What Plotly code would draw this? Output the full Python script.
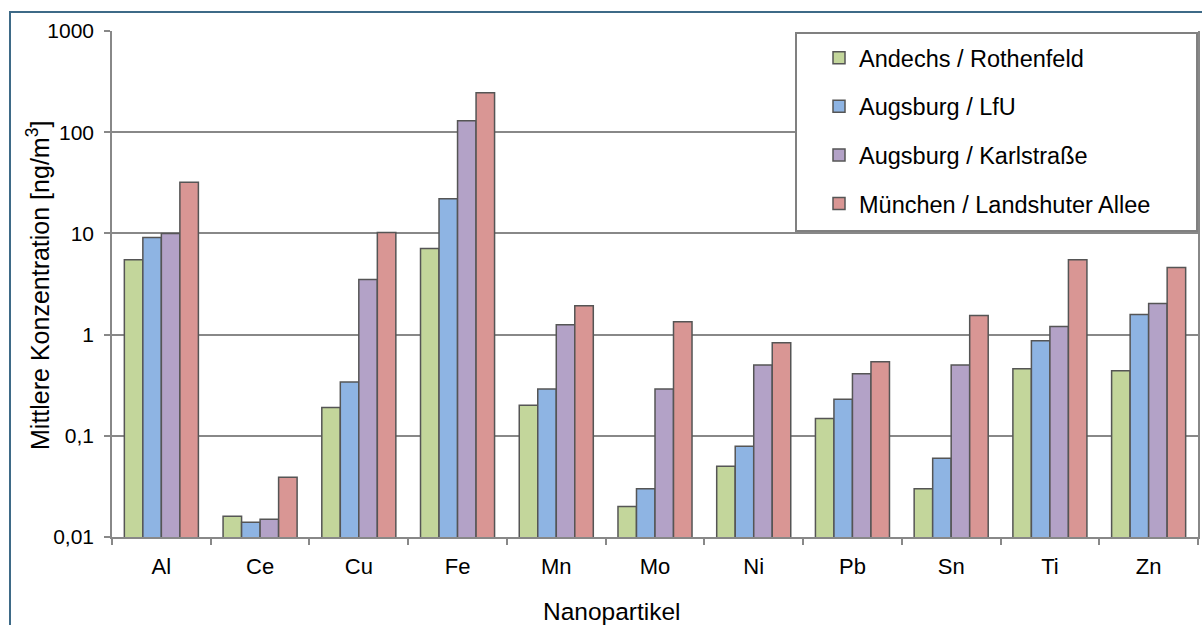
import plotly.graph_objects as go

categories = ["Al", "Ce", "Cu", "Fe", "Mn", "Mo", "Ni", "Pb", "Sn", "Ti", "Zn"]
series_names = ["Andechs / Rothenfeld", "Augsburg / LfU", "Augsburg / Karlstraße", "München / Landshuter Allee"]
andechs = [5.5, 0.016, 0.19, 7.1, 0.20, 0.020, 0.050, 0.148, 0.030, 0.46, 0.44]
augsburg_lfu = [9.1, 0.014, 0.34, 22, 0.29, 0.030, 0.079, 0.23, 0.060, 0.87, 1.58]
augsburg_karl = [10, 0.015, 3.5, 130, 1.25, 0.29, 0.50, 0.41, 0.50, 1.2, 2.03]
muenchen = [32, 0.039, 10.2, 245, 1.93, 1.34, 0.83, 0.54, 1.54, 5.5, 4.6]
series_values = [andechs, augsburg_lfu, augsburg_karl, muenchen]
colors = ["#c3d69b", "#8eb4e3", "#b3a2c7", "#d99694"]
ytick_vals = [0.01, 0.1, 1, 10, 100, 1000]
ytick_text = ["0,01", "0,1", "1", "10", "100", "1000"]

W, H = 1202, 625
L, R, T, B = 112, 1198, 31, 537
pw, ph = R - L, B - T

def px(x):
    return (x - L) / pw

def py(y):
    return (B - y) / ph

font = "Liberation Sans, Arial, sans-serif"
fig = go.Figure()
for name, vals, c in zip(series_names, series_values, colors):
    fig.add_trace(go.Bar(
        x=categories, y=vals, name=name, legendgroup=name,
        marker=dict(color=c, line=dict(color="#555555", width=1.5)),
    ))

fig.update_layout(
    width=W, height=H,
    margin=dict(l=L, r=W - R, t=T, b=H - B, autoexpand=False),
    paper_bgcolor="white", plot_bgcolor="white",
    barmode="group", bargap=0.25, bargroupgap=0,
    font=dict(family=font, size=21, color="#000000"),
    showlegend=True,
    legend=dict(
        x=px(819), y=py(36), xanchor="left", yanchor="top",
        font=dict(size=23.5, family=font), bgcolor="rgba(0,0,0,0)",
        borderwidth=0, tracegroupgap=15, itemclick=False,
    ),
    xaxis=dict(
        type="category", showline=True, linecolor="#888888", linewidth=1.5,
        ticks="outside", tickson="boundaries", ticklen=6, tickcolor="#888888",
        tickwidth=1.5, showgrid=False, tickfont=dict(size=22, family=font),
        ticklabelstandoff=9,
    ),
    yaxis=dict(
        type="log", range=[-2, 3], tickvals=ytick_vals, ticktext=ytick_text,
        showline=True, mirror=True, linecolor="#888888", linewidth=1.5,
        ticks="outside", ticklen=6, tickcolor="#888888", tickwidth=1.5,
        showgrid=True, gridcolor="#888888", gridwidth=1.5,
        tickfont=dict(size=21, family=font), zeroline=False,
        ticklabelstandoff=6,
    ),
    shapes=[
        dict(type="rect", xref="paper", yref="paper",
             x0=px(796), x1=px(1197), y0=py(231), y1=py(33),
             line=dict(color="#808080", width=2), fillcolor="white", layer="above"),
        dict(type="rect", xref="paper", yref="paper",
             x0=px(10), x1=px(1230), y0=py(660), y1=py(12),
             line=dict(color="#3e6a87", width=2), fillcolor="rgba(0,0,0,0)", layer="below"),
    ],
    annotations=[
        dict(text="Mittlere Konzentration [ng/m<sup>3</sup>]", xref="paper", yref="paper",
             x=px(38), y=py(286), textangle=-90, showarrow=False,
             font=dict(size=25, family=font), xanchor="center", yanchor="middle"),
        dict(text="Nanopartikel", xref="paper", yref="paper",
             x=px(612), y=py(611), showarrow=False,
             font=dict(size=24.5, family=font), xanchor="center", yanchor="middle"),
    ],
)

fig.write_html("out.html", config={"displayModeBar": False},
               post_script="document.body.style.margin='0px';")
